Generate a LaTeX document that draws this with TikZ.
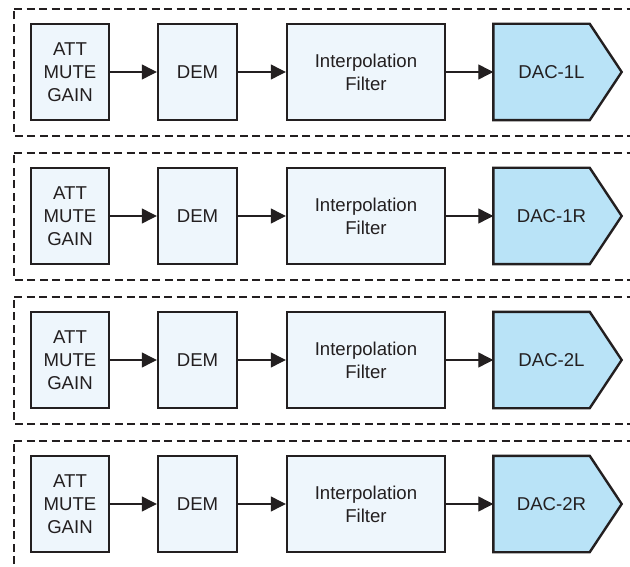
\documentclass[tikz,border=0pt]{standalone}
\usepackage{fontspec}
\setmainfont{Liberation Sans}
\usetikzlibrary{arrows.meta,backgrounds}
\definecolor{boxfill}{HTML}{EEF6FC}
\definecolor{dacfill}{HTML}{B9E3F7}
\definecolor{ink}{HTML}{231F20}
\tikzset{
  blockbox/.style={draw=ink, line width=2.4pt, fill=boxfill, minimum height=96pt, inner sep=0pt, align=center, text=ink, font=\fontsize{18.6}{23}\selectfont},
  dacbox/.style={draw=none, minimum height=96pt, minimum width=128pt, inner sep=0pt, text=ink, font=\fontsize{18.6}{23}\selectfont},
  dacshape/.style={draw=ink, line width=2.4pt, fill=dacfill, line join=miter},
  flow/.style={draw=ink, line width=1.2pt, -{Triangle[length=15pt,width=15pt]}},
  frame/.style={draw=ink, line width=2.4pt, dash pattern=on 8pt off 4.5pt}
}
\begin{document}
\begin{tikzpicture}[x=1pt,y=-1pt]
\useasboundingbox (0,0) rectangle (630,567);
\clip (0,0) rectangle (630,567);
\foreach \lab [count=\i] in {1L,1R,2L,2R} {
  \pgfmathsetmacro\yy{72+144*(\i-1)}
  \draw[frame] (14,\yy-63) -- (660,\yy-63) (660,\yy+64) -- (14,\yy+64) -- (14,\yy-63);
  \node[blockbox, minimum width=78pt] (att\i) at (70,\yy) {ATT\\MUTE\\GAIN};
  \node[blockbox, minimum width=79pt] (dem\i) at (197.5,\yy) {DEM};
  \node[blockbox, minimum width=158pt] (int\i) at (366,\yy) {Interpolation\\Filter};
  \node[dacbox] (dac\i) at (557.5,\yy) {\kern-12pt DAC-\lab};
  \begin{scope}[on background layer]
    \draw[dacshape] (dac\i.north west) -- ([xshift=-32pt]dac\i.north east) -- (dac\i.east) -- ([xshift=-32pt]dac\i.south east) -- (dac\i.south west) -- cycle;
  \end{scope}
  \draw[flow] (att\i) -- (dem\i);
  \draw[flow] (dem\i) -- (int\i);
  \draw[flow] (int\i) -- (dac\i.west);
}
\end{tikzpicture}
\end{document}
